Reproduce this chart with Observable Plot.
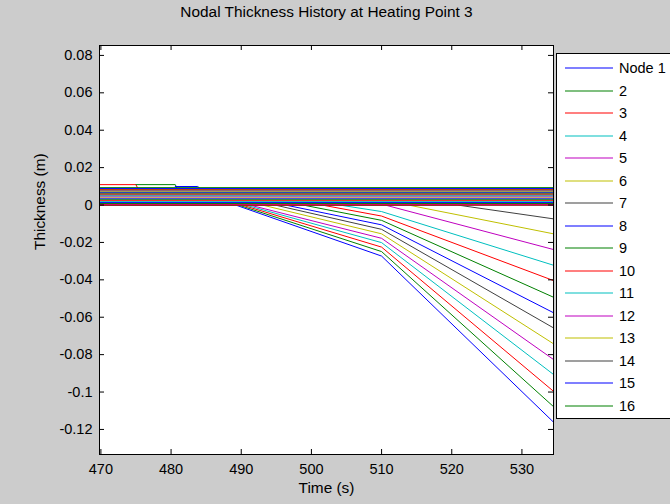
<!DOCTYPE html>
<html>
<head>
<meta charset="utf-8">
<script src="https://cdn.jsdelivr.net/npm/d3@7"></script>
<script src="https://cdn.jsdelivr.net/npm/@observablehq/plot@0.6"></script>
<style>
  html, body { margin: 0; padding: 0; background: #cccccc; }
  #wrap { position: relative; width: 670px; height: 504px; overflow: hidden; background: #cccccc;
          font-family: "Liberation Sans", Arial, Helvetica, sans-serif; }
  #legend { position: absolute; left: 556px; top: 53px; }
</style>
</head>
<body>
<div id="wrap"></div>
<script>
// ---- data ----
const chartTitle = "Nodal Thickness History at Heating Point 3";
const xLabel = "Time (s)";
const yLabel = "Thickness (m)";

const nodeLabels = ["Node 1","2","3","4","5","6","7","8","9","10","11","12","13","14","15","16"];
const nodeColors = ["#0000ff","#008000","#ff0000","#00bfbf","#bf00bf","#bfbf00","#404040",
                    "#0000ff","#008000","#ff0000","#00bfbf","#bf00bf","#bfbf00","#404040",
                    "#0000ff","#008000"];

const timeStart = 469.8;
const timeEnd = 534.5;
const kinkTime = 510;
// time at which each node starts thinning (null = stays at 0)
const descentStart = [489.2, 489.6, 490.1, 490.6, 491.2, 493.0, 494.8, 496.3, 498.8, 501.5, 504.0, 510.5, 513.8, 520.8, null, null];
// thickness at t = 510 s
const thickAtKink = [-0.0273, -0.0249, -0.0225, -0.0201, -0.0178, -0.0154, -0.0130, -0.0106, -0.0082, -0.0059, -0.0035, 0, 0, 0, 0, 0];
// thickness at the last time step
const thickAtEnd = [-0.1161, -0.1078, -0.0996, -0.0906, -0.0826, -0.0742, -0.0657, -0.0576, -0.0493, -0.0404, -0.0322, -0.0238, -0.0154, -0.0074, 0, 0];

// dense band of constant-thickness lines near zero
const bandLevels = [0.0093, 0.0088, 0.0083, 0.0078, 0.0073, 0.0068, 0.0063, 0.0058, 0.0053, 0.0048,
                    0.0043, 0.0038, 0.0033, 0.0028, 0.0023, 0.0018, 0.0013, 0.0008, 0.0003, 0.0000];
const bandColors = ["#008000","#0000ff","#bf4000","#804080","#bfbf00","#0000ff","#008000","#ff0000","#404040","#00bfbf",
                    "#bf00bf","#bfbf00","#0000ff","#008000","#ff0000","#00bfbf","#0000ff","#008000","#bf00bf","#ff0000"];

// short early segments above the band
const earlyLevels = [0.0109, 0.0109, 0.0099];
const earlyFrom = [469.8, 475.0, 480.6];
const earlyTo = [475.0, 480.6, 483.8];
const earlyColors = ["#ff0000", "#008000", "#0000ff"];

const xTicks = [470, 480, 490, 500, 510, 520, 530];
const yTicks = [0.08, 0.06, 0.04, 0.02, 0, -0.02, -0.04, -0.06, -0.08, -0.1, -0.12];
const yTickLabels = ["0.08","0.06","0.04","0.02","0","-0.02","-0.04","-0.06","-0.08","-0.1","-0.12"];
const yDomain = [-0.1334, 0.0853];

// ---- build rows ----
const rows = [];
nodeLabels.forEach((name, i) => {
  const pts = [[timeStart, 0]];
  const t0 = descentStart[i];
  if (t0 != null) {
    pts.push([t0, 0]);
    if (t0 < kinkTime) pts.push([kinkTime, thickAtKink[i]]);
    pts.push([timeEnd, thickAtEnd[i]]);
  } else {
    pts.push([timeEnd, 0]);
  }
  pts.forEach(([t, v]) => rows.push({series: "n" + i, t, v, color: nodeColors[i]}));
});
earlyLevels.forEach((lv, i) => {
  rows.push({series: "e" + i, t: earlyFrom[i], v: lv, color: earlyColors[i]});
  rows.push({series: "e" + i, t: earlyTo[i], v: lv, color: earlyColors[i]});
  rows.push({series: "e" + i, t: earlyTo[i] + 0.2, v: bandLevels[0], color: earlyColors[i]});
});
bandLevels.forEach((lv, i) => {
  rows.push({series: "b" + i, t: timeStart, v: lv, color: bandColors[i]});
  rows.push({series: "b" + i, t: timeEnd, v: lv, color: bandColors[i]});
});

const marginLeft = 99, marginRight = 117, marginTop = 45, marginBottom = 50;
const W = 670, H = 504;
const frameW = W - marginLeft - marginRight;
const frameH = H - marginTop - marginBottom;
const yLabelMap = new Map(yTicks.map((d, i) => [d, yTickLabels[i]]));

const chart = Plot.plot({
  width: W, height: H,
  marginLeft, marginRight, marginTop, marginBottom,
  style: {background: "#cccccc", fontFamily: "'Liberation Sans', Arial, Helvetica, sans-serif", fontSize: "14.5px", color: "#000"},
  x: {domain: [timeStart, timeEnd]},
  y: {domain: yDomain},
  color: {type: "identity"},
  marks: [
    Plot.frame({fill: "#ffffff", stroke: null}),
    Plot.line(rows, {x: "t", y: "v", z: "series", stroke: "color", strokeWidth: 1, curve: "linear"}),
    Plot.frame({stroke: "#000", strokeWidth: 1}),
    Plot.tickX(xTicks, {x: d => d, insetTop: frameH - 5, stroke: "#000"}),
    Plot.tickX(xTicks, {x: d => d, insetBottom: frameH - 5, stroke: "#000"}),
    Plot.tickY(yTicks, {y: d => d, insetRight: frameW - 5, stroke: "#000"}),
    Plot.tickY(yTicks, {y: d => d, insetLeft: frameW - 5, stroke: "#000"}),
    Plot.axisX(xTicks, {tickSize: 0, tickPadding: 9, label: null, tickFormat: d => String(d), fill: "#000"}),
    Plot.axisY(yTicks, {tickSize: 0, tickPadding: 7, label: null, tickFormat: d => yLabelMap.get(d), fill: "#000"}),
    Plot.text([xLabel], {text: d => d, frameAnchor: "bottom", dy: 38, fontSize: 15.4, fill: "#000"}),
    Plot.text([yLabel], {text: d => d, frameAnchor: "left", dx: -59, rotate: -90, fontSize: 15.4, fill: "#000"}),
    Plot.text([chartTitle], {text: d => d, frameAnchor: "top", dy: -39, fontSize: 15.4, fill: "#000"})
  ]
});
document.getElementById("wrap").appendChild(chart);

// ---- legend (SVG) ----
const lw = 140, lh = 366, rowGap = 22.5, firstRow = 15;
const lsvg = d3.select("#wrap").append("svg").attr("id", "legend")
  .attr("width", lw).attr("height", lh);
lsvg.append("rect").attr("x", 0.5).attr("y", 0.5).attr("width", lw).attr("height", lh - 1)
  .attr("fill", "#ffffff").attr("stroke", "#000").attr("stroke-width", 1);
nodeLabels.forEach((name, i) => {
  const yy = Math.round(firstRow + rowGap * i);
  lsvg.append("line").attr("x1", 9).attr("x2", 57).attr("y1", yy).attr("y2", yy)
    .attr("stroke", nodeColors[i]).attr("stroke-width", 1.2);
  lsvg.append("text").attr("x", 63).attr("y", yy).attr("dy", "0.36em")
    .attr("font-size", "14.5px").attr("font-family", "'Liberation Sans', Arial, Helvetica, sans-serif")
    .attr("fill", "#000").text(name);
});
</script>
</body>
</html>
